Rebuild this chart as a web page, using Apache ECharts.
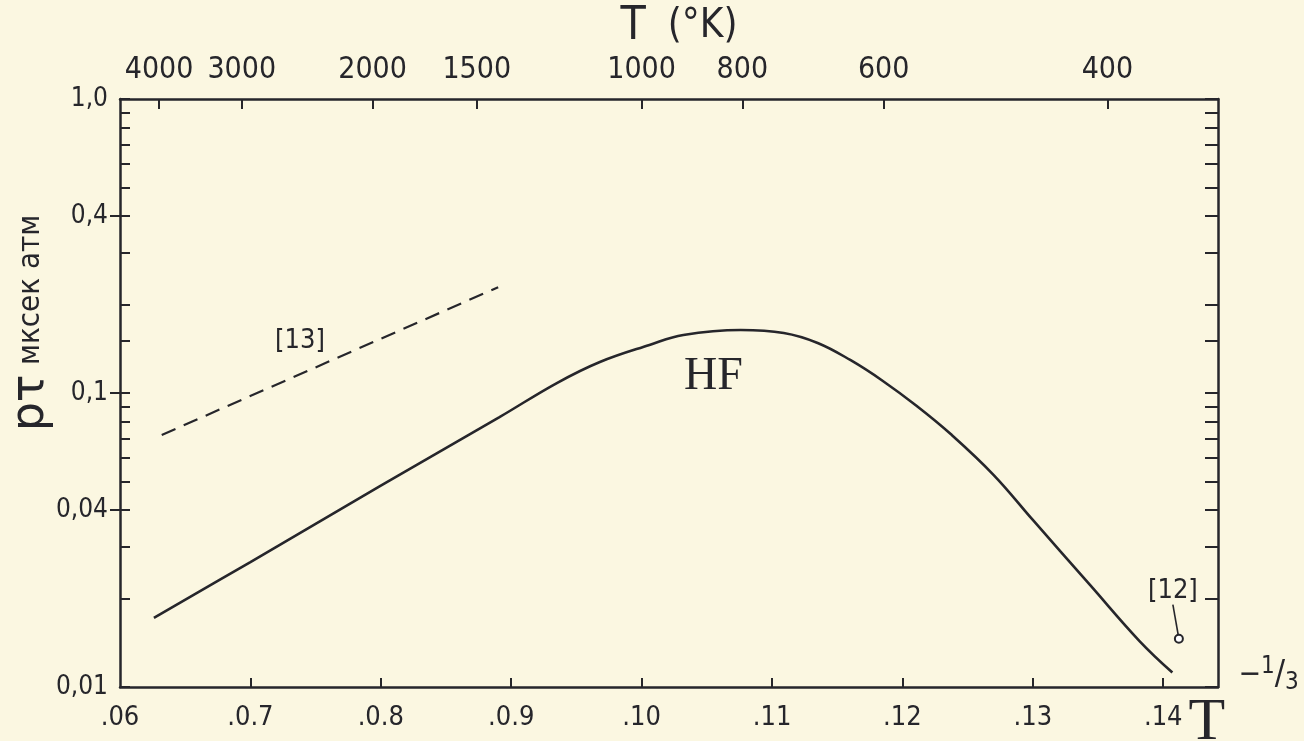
<!DOCTYPE html>
<html>
<head>
<meta charset="utf-8">
<title>HF p-tau</title>
<script src="https://cdn.jsdelivr.net/npm/echarts@6/dist/echarts.min.js"></script>
<style>
html, body { margin: 0; padding: 0; background: #fbf7e1; }
#chart { width: 1304px; height: 741px; }
</style>
</head>
<body>
<div id="chart"></div>
<script>
// HF curve (x = T^-1/3, y = p*tau, мксек атм)
const hfX = [0.0626, 0.0700, 0.0800, 0.0891, 0.0935, 0.0968, 0.1006, 0.1032, 0.1076, 0.1109,
             0.1135, 0.1160, 0.1185, 0.1211, 0.1237, 0.1270, 0.1300, 0.1344, 0.1382, 0.1407];
const hfY = [0.0172, 0.0266, 0.0484, 0.0828, 0.1081, 0.1275, 0.1457, 0.1575, 0.1638, 0.1600,
             0.1480, 0.1295, 0.1099, 0.0903, 0.0725, 0.0526, 0.0370, 0.0222, 0.0143, 0.0112];

// reference [13] (dashed line)
const ref13X = [0.0632, 0.0890];
const ref13Y = [0.0720, 0.2290];

// reference [12] (single point)
const ref12X = [0.1412];
const ref12Y = [0.0146];

// axes
const bottomTicks = [0.06, 0.07, 0.08, 0.09, 0.10, 0.11, 0.12, 0.13, 0.14];
const bottomLabels = ['.06', '.0.7', '.0.8', '.0.9', '.10', '.11', '.12', '.13', '.14'];
const topTempK = [4000, 3000, 2000, 1500, 1000, 800, 600, 400];
const yMajor = [0.01, 0.04, 0.1, 0.4, 1];
const yLabels = ['0,01', '0,04', '0,1', '0,4', '1,0'];
const yMinor = [0.02, 0.03, 0.05, 0.06, 0.07, 0.08, 0.09, 0.15, 0.2, 0.3, 0.5, 0.6, 0.7, 0.8, 0.9];

const ink = '#26262b';
const narrow = "'Liberation Sans Narrow', 'DejaVu Sans Condensed', sans-serif";
const serif = "'Liberation Serif', 'DejaVu Serif', serif";

const X_MIN = 0.06, X_MAX = 0.1442;
const topPos = topTempK.map(t => Math.pow(t, -1 / 3));

function nearestIndex(arr, v, logScale) {
    let best = 0, bd = Infinity;
    arr.forEach((a, i) => {
        const d = logScale ? Math.abs(Math.log(a) - Math.log(v)) : Math.abs(a - v);
        if (d < bd) { bd = d; best = i; }
    });
    return best;
}

const axisLine = { show: true, lineStyle: { color: ink, width: 2.5 } };
const tickLine = { color: ink, width: 2 };

const chart = echarts.init(document.getElementById('chart'));
chart.setOption({
    backgroundColor: '#fbf7e1',
    animation: false,
    grid: { left: 120, right: 86, top: 99, bottom: 54, containLabel: false, outerBoundsMode: 'none' },
    xAxis: [{
        type: 'value', position: 'bottom', min: X_MIN, max: X_MAX,
        axisLine: axisLine,
        axisTick: { show: true, inside: true, length: 9, customValues: bottomTicks.slice(1), lineStyle: tickLine },
        axisLabel: {
            customValues: bottomTicks, margin: 17, fontSize: 27, fontFamily: narrow, color: ink,
            formatter: v => bottomLabels[nearestIndex(bottomTicks, v)]
        },
        splitLine: { show: false },
        name: '{a|−}{b|1}{c|/}{d|3}\n{t|T}',
        nameLocation: 'end', nameGap: -36,
        nameTextStyle: {
            align: 'left', verticalAlign: 'middle', color: ink,
            padding: [32, 0, 0, 0],
            rich: {
                a: { fontSize: 30, fontFamily: narrow, color: ink, padding: [0, 0, 0, 50], lineHeight: 40, verticalAlign: 'middle' },
                b: { fontSize: 24, fontFamily: narrow, color: ink, verticalAlign: 'top', lineHeight: 40 },
                c: { fontSize: 34, fontFamily: narrow, color: ink, verticalAlign: 'middle', lineHeight: 40 },
                d: { fontSize: 24, fontFamily: narrow, color: ink, verticalAlign: 'bottom', lineHeight: 40 },
                t: { fontSize: 60, fontFamily: serif, color: ink, lineHeight: 56 }
            }
        }
    }, {
        type: 'value', position: 'top', min: X_MIN, max: X_MAX,
        axisLine: axisLine,
        axisTick: { show: true, inside: true, length: 10, customValues: topPos, lineStyle: tickLine },
        axisLabel: {
            customValues: topPos, margin: 14, fontSize: 30, fontFamily: narrow, color: ink,
            formatter: v => String(topTempK[nearestIndex(topPos, v)])
        },
        splitLine: { show: false },
        name: '{t|T}{k|(°K)}',
        nameLocation: 'middle', nameGap: 30,
        nameTextStyle: {
            padding: [0, 0, 0, 20],
            rich: {
                t: { fontSize: 46, fontFamily: narrow, color: ink, padding: [0, 22, 0, 0] },
                k: { fontSize: 40, fontFamily: narrow, color: ink }
            }
        }
    }],
    yAxis: [{
        type: 'log', logBase: 10, min: 0.01, max: 1, position: 'left',
        axisLine: axisLine,
        axisTick: { show: true, inside: true, length: 10, customValues: yMinor.concat(yMajor), lineStyle: tickLine },
        axisLabel: {
            customValues: yMajor, margin: 12, fontSize: 26, fontFamily: narrow, color: ink,
            formatter: v => yLabels[nearestIndex(yMajor, v, true)]
        },
        splitLine: { show: false },
        name: '{a|pτ} {b|мксек атм}',
        nameLocation: 'middle', nameGap: 66, nameMoveOverlap: false,
        nameTextStyle: {
            padding: [0, 0, 0, 140],
            rich: {
                a: { fontSize: 46, fontFamily: "'DejaVu Sans', sans-serif", color: ink, padding: [0, 6, 0, 0] },
                b: { fontSize: 31, fontFamily: "'DejaVu Sans Condensed', 'DejaVu Sans', sans-serif", color: ink }
            }
        }
    }, {
        type: 'log', logBase: 10, min: 0.01, max: 1, position: 'left',
        axisLine: { show: false },
        axisTick: { show: true, inside: false, length: 10, customValues: yMajor.slice(1, 4), lineStyle: tickLine },
        axisLabel: { show: false },
        splitLine: { show: false }
    }, {
        type: 'log', logBase: 10, min: 0.01, max: 1, position: 'right',
        axisLine: axisLine,
        axisTick: { show: true, inside: true, length: 13, customValues: yMinor.concat(yMajor), lineStyle: tickLine },
        axisLabel: { show: false },
        splitLine: { show: false }
    }],
    series: [{
        name: 'HF', type: 'line', xAxisIndex: 0, yAxisIndex: 0,
        data: hfX.map((x, i) => [x, hfY[i]]),
        smooth: 0.4, symbol: 'none',
        lineStyle: { color: ink, width: 2.6 },
        markPoint: {
            symbol: 'circle', symbolSize: 1, itemStyle: { color: 'rgba(0,0,0,0)' },
            label: { show: true, formatter: 'HF', fontSize: 46, fontFamily: serif, color: ink },
            data: [{ coord: [0.1055, 0.1133] }]
        }
    }, {
        name: '[13]', type: 'line', xAxisIndex: 0, yAxisIndex: 0,
        data: ref13X.map((x, i) => [x, ref13Y[i]]),
        symbol: 'none',
        lineStyle: { color: ink, width: 2.2, type: [15, 9] },
        markPoint: {
            symbol: 'circle', symbolSize: 1, itemStyle: { color: 'rgba(0,0,0,0)' },
            label: { show: true, formatter: '[13]', fontSize: 27, fontFamily: narrow, color: ink },
            data: [{ coord: [0.0738, 0.1503] }]
        }
    }, {
        name: '[12]', type: 'scatter', xAxisIndex: 0, yAxisIndex: 0,
        data: ref12X.map((x, i) => [x, ref12Y[i]]),
        symbol: 'emptyCircle', symbolSize: 8,
        itemStyle: { color: ink, borderColor: ink, borderWidth: 2, opacity: 1 },
        label: { show: true, formatter: '[12]', position: 'top', distance: 5, fontSize: 27, fontFamily: narrow, color: ink },
        labelLayout: { dx: -6, dy: -24 },
        labelLine: { show: true, lineStyle: { color: ink, width: 1.6, opacity: 1 } }
    }]
});
</script>
</body>
</html>
